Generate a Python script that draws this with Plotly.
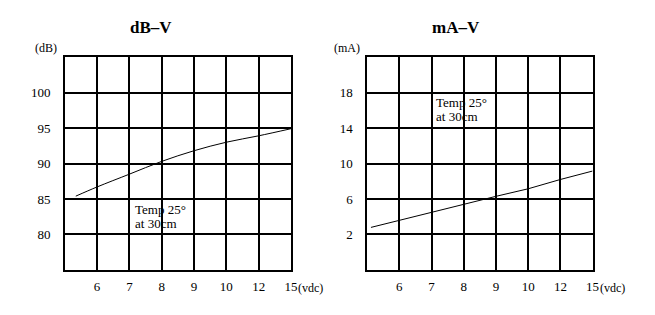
import numpy as np
import plotly.graph_objects as go

# ---- data ----
volt_ticks = [5, 6, 7, 8, 9, 10, 12, 15]
volt_labels = ["6", "7", "8", "9", "10", "12", "15"]

db_volts = [5.34, 6, 7, 8, 9, 10, 12, 15]
db_values = [85.4, 86.7, 88.5, 90.3, 91.8, 93.0, 93.9, 94.9]

ma_volts = [5.12, 6, 7, 8, 9, 10, 12, 15]
ma_values = [2.8, 3.6, 4.5, 5.35, 6.3, 7.15, 8.2, 9.15]

db_ticks = [80, 85, 90, 95, 100]
ma_ticks = [2, 6, 10, 14, 18]


def pos(v):
    return np.interp(v, volt_ticks, list(range(len(volt_ticks))))


FONT = "Liberation Serif"
fig = go.Figure()
fig.add_trace(go.Scatter(x=pos(db_volts), y=db_values, mode="lines",
                         line=dict(color="black", width=1, shape="spline"),
                         xaxis="x", yaxis="y", showlegend=False, hoverinfo="skip"))
fig.add_trace(go.Scatter(x=pos(ma_volts), y=ma_values, mode="lines",
                         line=dict(color="black", width=1),
                         xaxis="x2", yaxis="y2", showlegend=False, hoverinfo="skip"))

xcommon = dict(range=[0, 7], tickvals=list(range(1, 8)), ticktext=volt_labels,
               showgrid=True, gridcolor="black", gridwidth=1.5,
               showline=True, linecolor="black", linewidth=1.5, mirror=True,
               zeroline=False, ticks="", ticklabelstandoff=4,
               tickfont=dict(family=FONT, size=13, color="black"))
ycommon = dict(showgrid=True, gridcolor="black", gridwidth=1.5,
               showline=True, linecolor="black", linewidth=1.5, mirror=True,
               zeroline=False, ticks="", ticklabelstandoff=10,
               tickfont=dict(family=FONT, size=13, color="black"))

fig.update_layout(
    width=655, height=315, margin=dict(l=0, r=0, t=0, b=0),
    paper_bgcolor="white", plot_bgcolor="white",
    xaxis=dict(domain=[0.1, 0.449], anchor="y", **xcommon),
    yaxis=dict(domain=[0.1429, 0.819], anchor="x", range=[75, 105],
               tickvals=db_ticks, **ycommon),
    xaxis2=dict(domain=[0.5665, 0.9145], anchor="y2", **xcommon),
    yaxis2=dict(domain=[0.1429, 0.819], anchor="x2", range=[-2, 22],
                tickvals=ma_ticks, **ycommon),
)

ann = []
tf = dict(family=FONT, size=13, color="black")


def pann(text, x, y, size=12, xanchor="center", bold=False):
    return dict(text=f"<b>{text}</b>" if bold else text, x=x / 655, y=1 - y / 315,
                xref="paper", yref="paper", xanchor=xanchor, yanchor="middle",
                showarrow=False, font=dict(family=FONT, size=size, color="black"))


# titles
ann.append(pann("dB–V", 153, 27, size=17, bold=True))
ann.append(pann("mA–V", 461, 27, size=17, bold=True))
# units
ann.append(pann("(dB)", 47, 48))
ann.append(pann("(mA)", 351, 48))
ann.append(pann("(vdc)", 299, 288, xanchor="left"))
ann.append(pann("(vdc)", 604, 288, xanchor="left"))
# notes
for t, x, y, xr, yr in [("Temp 25°", 2.12, 83.45, "x", "y"), ("at 30cm", 2.12, 81.5, "x", "y"),
                        ("Temp 25°", 2.08, 16.93, "x2", "y2"), ("at 30cm", 2.08, 15.27, "x2", "y2")]:
    ann.append(dict(text=t, x=x, y=y, xref=xr, yref=yr, xanchor="left", yanchor="middle",
                    showarrow=False, font=tf))
fig.update_layout(annotations=ann)

fig.write_html("out.html")
